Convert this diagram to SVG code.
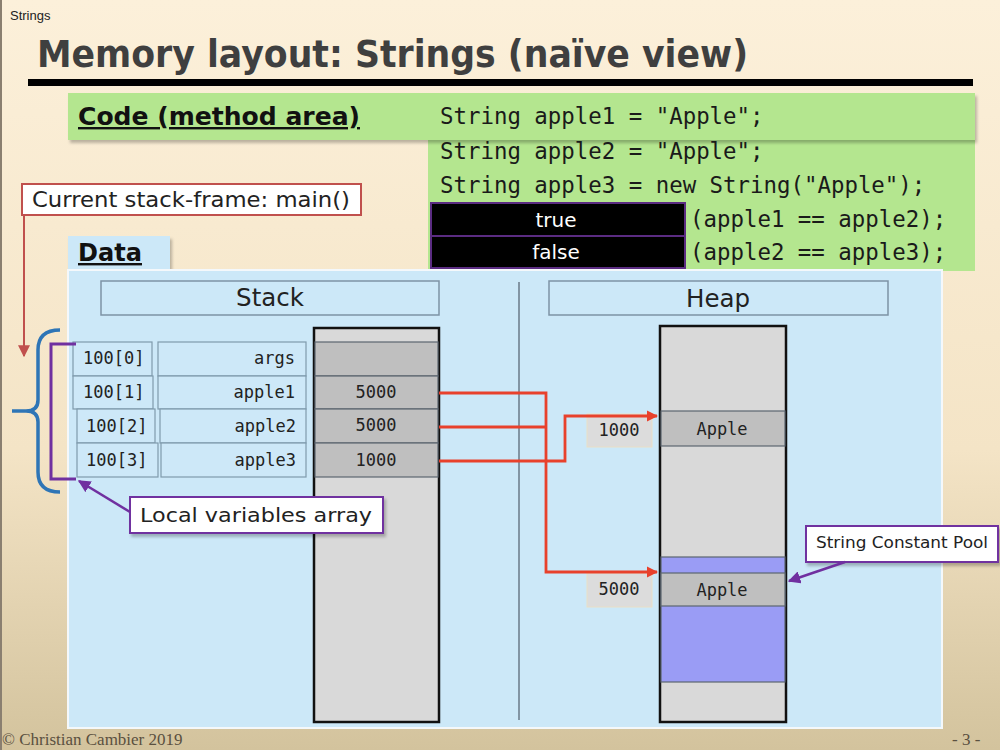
<svg xmlns="http://www.w3.org/2000/svg" width="1000" height="750" viewBox="0 0 1000 750">
  <defs>
    <linearGradient id="bg" x1="0" y1="0" x2="0" y2="1">
      <stop offset="0" stop-color="#fcf0da"/>
      <stop offset="0.6" stop-color="#f4e4c6"/>
      <stop offset="1" stop-color="#d3c39d"/>
    </linearGradient>
    <marker id="arrRed" viewBox="0 0 10 10" refX="9" refY="5" markerWidth="4" markerHeight="4" orient="auto" markerUnits="strokeWidth">
      <path d="M0,0 L10,5 L0,10 Z" fill="#e8412c"/>
    </marker>
    <marker id="arrDown" viewBox="0 0 10 10" refX="9" refY="5" markerWidth="6" markerHeight="6" orient="auto" markerUnits="strokeWidth">
      <path d="M0,0 L10,5 L0,10 Z" fill="#c0504d"/>
    </marker>
    <marker id="arrPurple" viewBox="0 0 10 10" refX="9" refY="5" markerWidth="5" markerHeight="5" orient="auto" markerUnits="strokeWidth">
      <path d="M0,0 L10,5 L0,10 Z" fill="#7030a0"/>
    </marker>
    <filter id="shadow" x="-5%" y="-10%" width="115%" height="130%">
      <feDropShadow dx="2" dy="3" stdDeviation="1.5" flood-color="#000" flood-opacity="0.25"/>
    </filter>
  </defs>
  <style>
    .sans { font-family: "DejaVu Sans", Verdana, sans-serif; }
    .title { font-family: "DejaVu Sans", Verdana, sans-serif; font-weight: bold; fill: #3f3f3f; }
    .heading { font-family: "DejaVu Sans", Verdana, sans-serif; font-weight: bold; fill: #111; text-decoration: underline; }
    .code { font-family: "DejaVu Sans Mono", "Liberation Mono", monospace; font-size: 22.4px; fill: #1a1a1a; }
    .hdr { fill: #cce8f8; stroke: #7d93a5; stroke-width: 1.5; }
    .cell { fill: #cde8f8; stroke: #7f9aac; stroke-width: 1.2; }
    .celltxt { font-family: "DejaVu Sans Mono", "Liberation Mono", monospace; font-size: 17px; fill: #222; }
    .mem { fill: #d9d9d9; stroke: #111; stroke-width: 2.5; }
    .slot { fill: #bfbfbf; stroke: #5c6670; stroke-width: 1.2; }
    .addr { fill: #dcdcdc; stroke: #eadfc6; stroke-width: 1; }
    .red { fill: none; stroke: #e8412c; stroke-width: 2.8; }
    .callout { fill: #ffffff; stroke: #7030a0; stroke-width: 2; }
    .bool { fill: #000; stroke: #5b2c82; stroke-width: 2; }
  </style>

  <!-- slide background -->
  <rect x="0" y="0" width="1000" height="750" fill="url(#bg)"/>
  <line x1="1" y1="0" x2="1" y2="750" stroke="#8a7f70" stroke-width="2"/>

  <text x="10" y="20" font-family="Liberation Sans, Arial, sans-serif" font-size="13" fill="#222">Strings</text>
  <text class="title" x="37" y="67" font-size="37" textLength="711" lengthAdjust="spacingAndGlyphs">Memory layout: Strings (naïve view)</text>
  <rect x="28" y="79" width="945" height="7" fill="#000"/>

  <!-- code (method area) -->
  <g id="code-area">
    <rect x="428" y="93" width="547" height="178" fill="#b4e68f"/>
    <rect x="68" y="93" width="907" height="47" fill="#b4e68f" filter="url(#shadow)"/>
    <text class="heading" x="78" y="125" font-size="24" textLength="282" lengthAdjust="spacingAndGlyphs">Code (method area)</text>
    <text class="code" x="440" y="124">String apple1 = "Apple";</text>
    <text class="code" x="440" y="159">String apple2 = "Apple";</text>
    <text class="code" x="440" y="193">String apple3 = new String("Apple");</text>
    <text class="code" x="690" y="227">(apple1 == apple2);</text>
    <text class="code" x="690" y="260">(apple2 == apple3);</text>
  </g>

  <g id="result-true">
    <rect class="bool" x="431" y="203" width="254" height="33"/>
    <text class="sans" x="556" y="227" font-size="20" fill="#fff" text-anchor="middle">true</text>
  </g>
  <g id="result-false">
    <rect class="bool" x="431" y="236" width="254" height="32"/>
    <text class="sans" x="556" y="259" font-size="20" fill="#fff" text-anchor="middle">false</text>
  </g>

  <!-- data area -->
  <g id="data-area">
    <rect x="68" y="236" width="102" height="36" fill="#cce8f8" filter="url(#shadow)"/>
    <rect x="68" y="270" width="874" height="458" fill="#cce8f8" stroke="#f4f8fb" stroke-width="2"/>
    <text class="heading" x="78" y="261" font-size="24" textLength="64" lengthAdjust="spacingAndGlyphs">Data</text>
    <line x1="519" y1="282" x2="519" y2="720" stroke="#6a7a88" stroke-width="1.5"/>
  </g>

  <g id="stack-header">
    <rect class="hdr" x="101" y="281" width="338" height="34"/>
    <text class="sans" x="270" y="306" font-size="24.5" fill="#222" text-anchor="middle">Stack</text>
  </g>
  <g id="heap-header">
    <rect class="hdr" x="549" y="281" width="339" height="34"/>
    <text class="sans" x="718" y="307" font-size="24.5" fill="#222" text-anchor="middle">Heap</text>
  </g>

  <!-- current frame label -->
  <g id="frame-label">
    <rect x="22" y="184" width="339" height="31" fill="#fff" stroke="#c0504d" stroke-width="2"/>
    <text class="sans" x="32" y="207" font-size="21" fill="#222" textLength="318" lengthAdjust="spacingAndGlyphs">Current stack-frame: main()</text>
  </g>

  <!-- stack memory column -->
  <g id="stack">
    <rect class="mem" x="314" y="328" width="125" height="394"/>
    <rect class="slot" x="315" y="342" width="123" height="34"/>
    <rect class="slot" x="315" y="376" width="123" height="33"/>
    <rect class="slot" x="315" y="409" width="123" height="34"/>
    <rect class="slot" x="315" y="443" width="123" height="34"/>
    <text class="celltxt" x="376" y="398" text-anchor="middle">5000</text>
    <text class="celltxt" x="376" y="431" text-anchor="middle">5000</text>
    <text class="celltxt" x="376" y="466" text-anchor="middle">1000</text>
  </g>

  <!-- local variable slots -->
  <g id="slot-0">
    <rect class="cell" x="73" y="342" width="79" height="34"/>
    <rect class="cell" x="158" y="342" width="148" height="34"/>
    <text class="celltxt" x="83" y="364">100[0]</text>
    <text class="celltxt" x="295" y="364" text-anchor="end">args</text>
  </g>
  <g id="slot-1">
    <rect class="cell" x="73" y="376" width="80" height="33"/>
    <rect class="cell" x="158" y="376" width="148" height="33"/>
    <text class="celltxt" x="83" y="398">100[1]</text>
    <text class="celltxt" x="295" y="398" text-anchor="end">apple1</text>
  </g>
  <g id="slot-2">
    <rect class="cell" x="77" y="409" width="78" height="34"/>
    <rect class="cell" x="160" y="409" width="146" height="34"/>
    <text class="celltxt" x="86" y="432">100[2]</text>
    <text class="celltxt" x="296" y="432" text-anchor="end">apple2</text>
  </g>
  <g id="slot-3">
    <rect class="cell" x="77" y="443" width="81" height="34"/>
    <rect class="cell" x="161" y="443" width="145" height="34"/>
    <text class="celltxt" x="86" y="466">100[3]</text>
    <text class="celltxt" x="296" y="466" text-anchor="end">apple3</text>
  </g>

  <!-- heap memory column -->
  <g id="heap">
    <rect class="mem" x="660" y="326" width="126" height="396"/>
    <rect x="661" y="557" width="124" height="125" fill="#9a9cf5" stroke="#5c6670" stroke-width="1.2"/>
    <rect class="slot" x="661" y="411" width="124" height="35"/>
    <rect class="slot" x="661" y="573" width="124" height="33"/>
    <text class="celltxt" x="722" y="435" text-anchor="middle">Apple</text>
    <text class="celltxt" x="722" y="596" text-anchor="middle">Apple</text>
  </g>
  <g id="addr-1000">
    <rect class="addr" x="587" y="414" width="65" height="33"/>
    <text class="celltxt" x="619" y="436" text-anchor="middle">1000</text>
  </g>
  <g id="addr-5000">
    <rect class="addr" x="587" y="573" width="65" height="34"/>
    <text class="celltxt" x="619" y="595" text-anchor="middle">5000</text>
  </g>

  <!-- callouts -->
  <g id="local-vars-label">
    <rect class="callout" x="130" y="497" width="253" height="36" filter="url(#shadow)"/>
    <text class="sans" x="140" y="522" font-size="20" fill="#222" textLength="232" lengthAdjust="spacingAndGlyphs">Local variables array</text>
  </g>
  <g id="pool-label">
    <rect class="callout" x="806" y="526" width="192" height="36" filter="url(#shadow)"/>
    <text class="sans" x="816" y="548" font-size="16" fill="#222" textLength="172" lengthAdjust="spacingAndGlyphs">String Constant Pool</text>
  </g>

  <!-- connectors -->
  <g id="connectors">
    <path d="M24,215 V356" fill="none" stroke="#c0504d" stroke-width="2" marker-end="url(#arrDown)"/>
    <path d="M60,330 Q38,330 38,350 V400 Q38,411 26,411 H12 M26,411 Q38,411 38,422 V472 Q38,492 60,492" fill="none" stroke="#2e75b6" stroke-width="3.5"/>
    <path d="M76,344 H51 V479 H76" fill="none" stroke="#7030a0" stroke-width="3"/>
    <path d="M130,512 L79,481" fill="none" stroke="#7030a0" stroke-width="2.5" marker-end="url(#arrPurple)"/>
    <path d="M845,562 L789,581" fill="none" stroke="#7030a0" stroke-width="2.5" marker-end="url(#arrPurple)"/>
    <path class="red" d="M439,393 H546 V572 H657" marker-end="url(#arrRed)"/>
    <path class="red" d="M439,427 H546"/>
    <path class="red" d="M439,461 H565 V416 H657" marker-end="url(#arrRed)"/>
  </g>

  <!-- footer -->
  <text x="2" y="745" font-family="Liberation Serif, Times New Roman, serif" font-size="17" fill="#5a5040">© Christian Cambier 2019</text>
  <text x="952" y="745" font-family="Liberation Serif, Times New Roman, serif" font-size="17" fill="#5a5040">- 3 -</text>
</svg>
